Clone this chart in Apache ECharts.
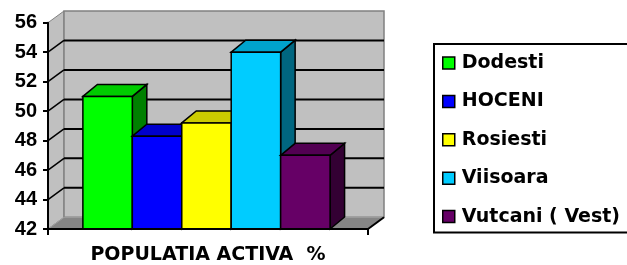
<!DOCTYPE html>
<html>
<head>
<meta charset="utf-8">
<script src="https://cdn.jsdelivr.net/npm/echarts@6/dist/echarts.min.js"></script>
<style>
html,body{margin:0;padding:0;background:#fff;}
#chart{width:627px;height:265px;}
</style>
</head>
<body>
<div id="chart"></div>
<script>
// date
var categorii = ['POPULATIA ACTIVA  %'];
var localitati = ['Dodesti', 'HOCENI', 'Rosiesti', 'Viisoara', 'Vutcani ( Vest)'];
var valori = [51, 48.3, 49.2, 54, 47];
var culori = ['#00ff00', '#0000ff', '#ffff00', '#00ccff', '#660066'];
var yTicks = [42, 44, 46, 48, 50, 52, 54, 56];

var yMin = yTicks[0], yMax = yTicks[yTicks.length - 1];
var DX = 16, DY = -11.7;      // adancimea peretelui
var BDX = 14.5, BDY = -12;    // adancimea barelor

function umbra(hex, f) {
	var n = parseInt(hex.slice(1), 16);
	var r = Math.round(((n >> 16) & 255) * f);
	var g = Math.round(((n >> 8) & 255) * f);
	var b = Math.round((n & 255) * f);
	return 'rgb(' + r + ',' + g + ',' + b + ')';
}

// peretii, podeaua si liniile de grila
function renderPerete(params, api) {
	var band = api.size([1, 0])[0];
	var c = api.coord([0, yMin]);
	var xl = c[0] - band / 2, xr = c[0] + band / 2;
	var yb = c[1], yt = api.coord([0, yMax])[1];
	var kids = [
		{type: 'polygon', shape: {points: [[xl, yt], [xl + DX, yt + DY], [xl + DX, yb + DY], [xl, yb]]},
			style: {fill: '#c0c0c0', stroke: '#808080', lineWidth: 1}},
		{type: 'rect', shape: {x: xl + DX, y: yt + DY, width: xr - xl, height: yb - yt},
			style: {fill: '#c0c0c0', stroke: '#808080', lineWidth: 1.5}},
		{type: 'polygon', shape: {points: [[xl, yb], [xl + DX, yb + DY], [xr + DX, yb + DY], [xr, yb]]},
			style: {fill: '#858585', stroke: '#a0a0a0', lineWidth: 1}},
		{type: 'line', shape: {x1: xr, y1: yb, x2: xr + DX, y2: yb + DY},
			style: {stroke: '#000', lineWidth: 2}}
	];
	for (var k = 0; k < yTicks.length; k++) {
		var v = yTicks[k];
		var y = api.coord([0, v])[1];
		if (v > yMin && v < yMax) {
			kids.push({type: 'line', shape: {x1: xl + DX, y1: y + DY, x2: xr + DX, y2: y + DY},
				style: {stroke: '#000', lineWidth: 2}});
			kids.push({type: 'line', shape: {x1: xl, y1: y, x2: xl + DX, y2: y + DY},
				style: {stroke: '#000', lineWidth: 1.5}});
		}
	}
	return {type: 'group', children: kids};
}

// bare 3D
function renderBara(params, api) {
	var i = params.seriesIndex - 1;
	var band = api.size([1, 0])[0];
	var top = api.coord([api.value(0), api.value(1)]);
	var base = api.coord([api.value(0), yMin]);
	var w = band * 0.1545;
	var x0 = top[0] - band / 2 + band * 0.109 + i * w;
	var x1 = x0 + w;
	var yt = top[1], yb = base[1];
	var col = culori[i];
	var contur = {stroke: '#000', lineWidth: 1.5, lineJoin: 'miter'};
	return {
		type: 'group',
		children: [
			{type: 'polygon', shape: {points: [[x1, yt], [x1 + BDX, yt + BDY], [x1 + BDX, yb + BDY], [x1, yb]]},
				style: Object.assign({fill: umbra(col, 0.5)}, contur)},
			{type: 'polygon', shape: {points: [[x0, yt], [x0 + BDX, yt + BDY], [x1 + BDX, yt + BDY], [x1, yt]]},
				style: Object.assign({fill: umbra(col, 0.8)}, contur)},
			{type: 'rect', shape: {x: x0, y: yt, width: w, height: yb - yt},
				style: Object.assign({fill: col}, contur)}
		]
	};
}

var serii = [{
	type: 'custom',
	name: 'perete',
	silent: true,
	z: 1,
	itemStyle: {color: '#c0c0c0'},
	renderItem: renderPerete,
	data: [[0, yMin]]
}];
for (var i = 0; i < localitati.length; i++) {
	serii.push({
		type: 'custom',
		name: localitati[i],
		z: 3,
		itemStyle: {color: culori[i]},
		renderItem: renderBara,
		encode: {x: 0, y: 1},
		data: [[0, valori[i]]]
	});
}

var myChart = echarts.init(document.getElementById('chart'));
var option = {
	animation: false,
	grid: {left: 48, right: 259, top: 22.7, bottom: 35},
	legend: {
		data: localitati,
		orient: 'vertical',
		left: 434,
		top: 44,
		padding: [9, 40, 6, 8],
		itemGap: 18.4,
		itemWidth: 12,
		itemHeight: 12,
		icon: 'rect',
		borderColor: '#000',
		borderWidth: 2,
		itemStyle: {borderColor: '#000', borderWidth: 1.5},
		textStyle: {
			color: '#000', fontWeight: 'bold', fontSize: 19, lineHeight: 20,
			fontFamily: 'DejaVu Sans', padding: [0, 0, 0, 2]
		}
	},
	xAxis: {
		type: 'category',
		data: categorii,
		z: 10,
		axisLine: {lineStyle: {color: '#000', width: 2}},
		axisTick: {show: true, length: 6, lineStyle: {color: '#000', width: 2}},
		axisLabel: {
			color: '#000', fontWeight: 'bold', fontSize: 19,
			fontFamily: 'DejaVu Sans', margin: 17
		}
	},
	yAxis: {
		type: 'value',
		min: yMin,
		max: yMax,
		interval: 2,
		z: 10,
		axisLine: {show: true, lineStyle: {color: '#000', width: 2}},
		axisTick: {show: true, length: 5, lineStyle: {color: '#000', width: 2}},
		splitLine: {show: false},
		axisLabel: {
			color: '#000', fontWeight: 'bold', fontSize: 20,
			fontFamily: 'Liberation Sans', margin: 11
		}
	},
	series: serii
};
myChart.setOption(option);
</script>
</body>
</html>
